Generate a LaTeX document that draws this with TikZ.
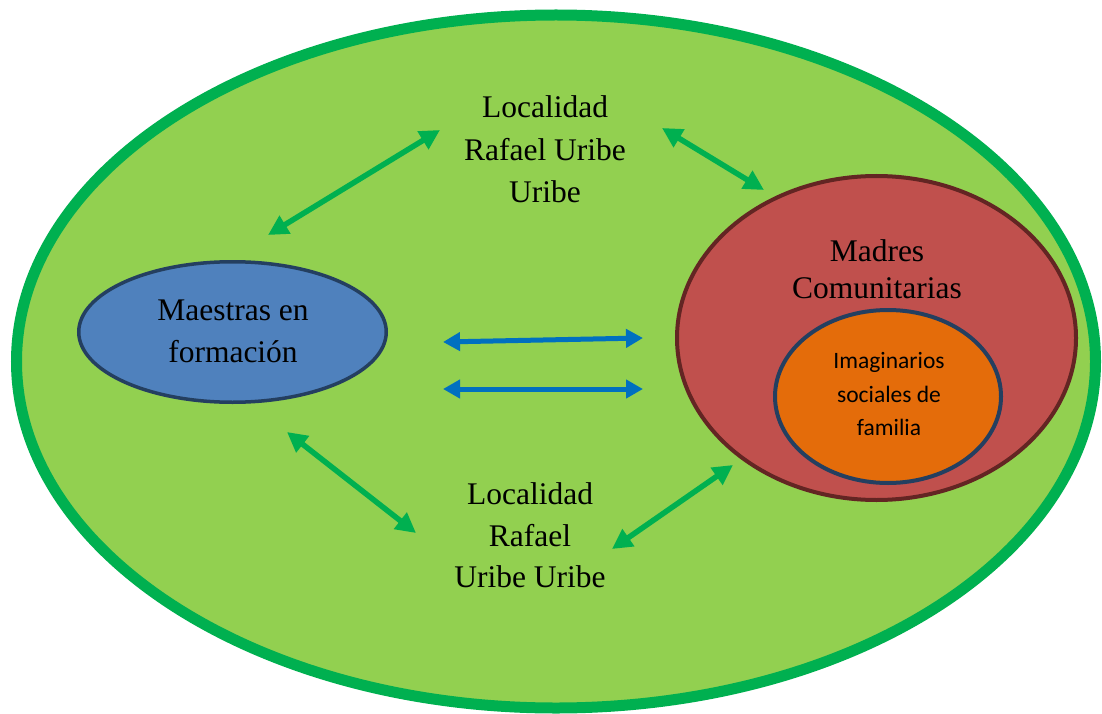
\documentclass[tikz,border=0pt]{standalone}
\usepackage{fontspec}
\newfontfamily\timesfont{LiberationSerif}[Extension=.ttf, UprightFont=*-Regular]
\newfontfamily\calibrifont{Carlito}
\usetikzlibrary{arrows.meta,shapes.geometric}
\definecolor{bgfill}{HTML}{92D050}
\definecolor{bgline}{HTML}{00B050}
\definecolor{bluefill}{HTML}{4F81BD}
\definecolor{navyline}{HTML}{243F60}
\definecolor{redfill}{HTML}{C0504D}
\definecolor{redline}{HTML}{632523}
\definecolor{orangefill}{HTML}{E46C0A}
\definecolor{garrowc}{HTML}{00B050}
\definecolor{barrowc}{HTML}{0070C0}
\tikzset{
  blob/.style={ellipse, inner sep=0pt, outer sep=0pt},
  serifline/.style={anchor=base, inner sep=0pt, font=\timesfont\fontsize{31.5}{40}\selectfont},
  sansline/.style={anchor=base, inner sep=0pt, font=\calibrifont\fontsize{23.5}{33}\selectfont},
  garrow/.style={draw=garrowc, line width=5.5pt,
    {Triangle[length=20pt,width=20pt]}-{Triangle[length=20pt,width=20pt]}},
  barrow/.style={draw=barrowc, line width=5pt,
    {Triangle[length=17pt,width=18pt]}-{Triangle[length=17pt,width=18pt]}}
}
\begin{document}
\begin{tikzpicture}[x=1pt,y=-1pt]
\useasboundingbox (0,0) rectangle (1102,714);
% outer ellipse
\node[blob, fill=bgfill, draw=bgline, line width=11pt,
  minimum width=1079pt, minimum height=693pt] (outer) at (556,361.5) {};
% blue ellipse
\node[blob, fill=bluefill, draw=navyline, line width=3.5pt,
  minimum width=307.5pt, minimum height=140.5pt] (maestras) at (232.5,332) {};
% red ellipse
\node[blob, fill=redfill, draw=redline, line width=4pt,
  minimum width=399pt, minimum height=324pt] (madres) at (876.5,338) {};
% orange ellipse
\node[blob, fill=orangefill, draw=navyline, line width=4pt,
  minimum width=226pt, minimum height=173pt] (imag) at (888,396.5) {};

% texts
\node[serifline] (m1) at (233,320) {Maestras en};
\node[serifline] (m2) at (233,362) {formación};
\node[serifline] (t1) at (545,118) {Localidad};
\node[serifline] (t2) at (545,161) {Rafael Uribe};
\node[serifline] (t3) at (545,202) {Uribe};
\node[serifline] (b1) at (530,504) {Localidad};
\node[serifline] (b2) at (530,546) {Rafael};
\node[serifline] (b3) at (530,587) {Uribe Uribe};
\node[serifline] (c1) at (877,261) {Madres};
\node[serifline] (c2) at (877,298) {Comunitarias};
\node[sansline] (i1) at (889,368) {Imaginarios};
\node[sansline] (i2) at (889,402) {sociales de};
\node[sansline] (i3) at (889,435) {familia};

% arrow ends
\coordinate (g1a) at (268,235);
\coordinate (g1b) at (440,130);
\coordinate (g2a) at (662,128);
\coordinate (g2b) at (764,190);
\coordinate (g3a) at (287,432);
\coordinate (g3b) at (416,533);
\coordinate (g4a) at (612,549);
\coordinate (g4b) at (733,465);
\coordinate (b1a) at (443,342);
\coordinate (b1b) at (643,338);
\coordinate (b2a) at (443,389);
\coordinate (b2b) at (643,389);

\draw[garrow] (g1a) -- (g1b);
\draw[garrow] (g2a) -- (g2b);
\draw[garrow] (g3a) -- (g3b);
\draw[garrow] (g4a) -- (g4b);
\draw[barrow] (b1a) -- (b1b);
\draw[barrow] (b2a) -- (b2b);
\end{tikzpicture}
\end{document}
